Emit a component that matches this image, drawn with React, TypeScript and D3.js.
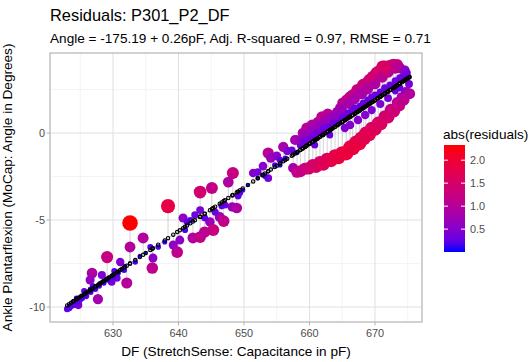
import React from "react";
import * as d3 from "d3";

// DF capacitance (pF) and ankle angle (degrees)
const pF = [
  623.0, 623.6, 624.0, 624.4, 624.8, 625.3, 625.7, 626.2, 626.5, 626.9,
  627.4, 627.7, 628.0, 628.5, 628.9, 629.4, 626.8, 628.3, 626.5, 630.6,
  631.1, 629.1, 632.1, 631.4, 630.2, 631.8, 632.6, 632.6, 634.6, 635.7,
  636.1, 636.0, 633.4, 634.1, 635.0, 636.9, 638.4, 624.7, 625.6, 629.8,
  639.8, 639.2, 640.2, 640.7, 641.8, 642.2, 643.3, 644.0, 644.8, 645.3,
  646.3, 646.9, 643.3, 645.1, 643.3, 641.3, 642.5, 648.2, 648.9, 649.4,
  649.8, 648.3, 651.4, 652.1, 637.9, 641.0, 645.6, 647.1, 650.6, 647.6,
  653.7, 654.1, 653.7, 652.9, 656.0, 656.6, 655.0, 657.5, 658.1, 658.2,
  652.8, 654.7, 656.3, 657.3,
  659.0, 659.6, 660.4, 661.3, 662.4, 663.4, 664.2, 665.1, 666.2, 667.3,
  668.2, 669.2, 670.3, 671.2, 672.3, 673.4, 673.8, 660.8, 661.9, 662.8,
  664.7, 665.7, 666.6, 667.7, 668.8, 669.7, 670.8, 671.8, 672.8,
  658.6, 660.1, 661.6, 663.1, 665.4, 667.7, 670.0, 672.3, 674.3, 674.6,
  664.4, 666.5, 668.9,
  658.1, 659.3, 660.5, 661.6, 662.7, 663.9, 665.0, 666.2, 667.1, 667.9,
  668.6, 669.5, 670.5, 671.5, 672.4, 673.4, 674.1, 674.7, 675.2, 674.6,
  668.5, 670.8, 673.1, 675.0, 666.2, 652.1, 655.5,
  658.6, 659.9, 661.0, 662.1, 663.3, 664.4, 665.6, 666.6, 667.6, 668.3,
  669.1, 670.0, 670.9, 672.0, 672.9, 673.7, 674.4, 675.3,
  665.4, 667.4, 669.5, 672.0, 673.8, 663.1, 660.8,
  657.8, 659.3, 660.1, 661.1, 662.1, 663.1, 663.9, 665.0, 666.0, 666.9,
  668.0, 668.9, 670.0, 671.1, 672.0, 673.1, 671.5,
  658.9, 659.5, 660.5, 661.1, 662.1, 662.7, 663.6, 665.0, 665.9, 666.9,
  668.2, 669.5, 670.8, 671.5, 673.1, 673.8, 674.9,
  644.0, 646.6, 649.1, 653.2, 655.5,
  623.3, 623.9, 624.5, 625.1, 625.9, 626.6, 627.3, 627.9, 628.6, 629.2,
  630.0, 630.8, 631.7,
];
const angle = [
  -10.11, -9.94, -9.77, -9.48, -9.66, -9.48, -9.31, -9.14, -8.97, -8.79,
  -8.85, -9.54, -8.62, -8.51, -8.39, -8.28, -8.05, -8.16, -8.45, -8.33,
  -7.41, -7.13, -8.62, -7.87, -7.93, -7.64, -6.55, -5.17, -6.03, -6.55,
  -7.18, -7.76, -7.41, -7.07, -6.9, -6.55, -4.2, -9.89, -9.08, -8.56,
  -6.84, -6.44, -6.15, -4.88, -5.0, -6.03, -5.98, -5.69, -5.11, -5.57,
  -4.83, -5.06, -3.39, -3.16, -4.43, -5.11, -4.71, -4.25, -4.31, -3.45,
  -3.28, -2.3, -2.3, -2.24, -6.26, -5.57, -4.54, -4.14, -2.99, -2.82,
  -1.15, -1.44, -2.59, -1.9, -0.8, -1.03, -1.32, -2.01, -1.15, -0.4,
  -2.41, -1.84, -1.44, -0.98,
  0.0, 0.29, 0.46, 0.63, 0.35, 0.75, 1.21, 1.72, 2.07, 2.47,
  2.76, 3.05, 3.45, 3.79, 3.85, 3.91, 3.74, 0.17, 0.92, 1.09,
  1.44, 1.9, 2.18, 2.41, 2.87, 3.22, 3.56, 3.74, 3.91,
  -0.69, -0.29, 0.06, 0.4, 1.04, 1.55, 2.18, 2.76, 3.28, 3.62,
  0.69, 1.32, 1.9,
  -2.24, -2.05, -1.85, -1.69, -1.51, -1.33, -1.16, -0.82, -0.53, -0.3,
  -0.01, 0.28, 0.58, 0.96, 1.35, 1.75, 2.06, 2.37, 2.82, 3.05,
  1.04, 1.67, 2.41, 3.28, 0.46, -2.59, -1.55,
  -2.2, -2.02, -1.92, -1.77, -1.56, -1.39, -1.16, -0.87, -0.59, -0.3,
  -0.07, 0.23, 0.54, 0.92, 1.26, 1.58, 1.9, 2.26,
  0.29, 0.75, 1.32, 2.01, 2.59, -0.11, -0.69,
  -0.4, -0.11, 0.12, 0.35, 0.58, 0.86, 0.98, 1.32, 1.67, 1.95,
  2.24, 2.53, 2.82, 3.22, 3.51, 3.74, 3.79,
  -0.52, -0.4, -0.17, 0.0, 0.23, 0.35, 0.58, 0.92, 1.15, 1.44,
  1.72, 2.07, 2.36, 2.59, 2.99, 3.16, 3.45,
  -4.88, -4.2, -3.62, -2.47, -1.84,
  -10.06, -9.89, -9.71, -9.54, -9.37, -9.14, -8.97, -8.79, -8.62, -8.45,
  -8.28, -8.05, -7.87,
];

const xTicks = [630, 640, 650, 660, 670];
const xMinor = [625, 635, 645, 655, 665, 675];
const yTicks = [-10, -5, 0];
const yMinor = [-7.5, -2.5, 2.5];
const legendTicks = [0.5, 1.0, 1.5, 2.0];

const titleText = "Residuals: P301_P2_DF";
const subtitleText = "Angle = -175.19 + 0.26pF, Adj. R-squared = 0.97, RMSE = 0.71";
const xLabel = "DF (StretchSense: Capacitance in pF)";
const yLabel = "Ankle Plantarflexion (MoCap: Angle in Degrees)";
const legendTitle = "abs(residuals)";

const FONT = "'Liberation Sans', Arial, Helvetica, sans-serif";

export default function App() {
  const W = 531, H = 362;
  const L = 50, R = 422, T = 53, B = 322;
  const x = d3.scaleLinear().domain([620.38, 677.18]).range([L, R]);
  const y = d3.scaleLinear().domain([-10.86, 4.6]).range([B, T]);

  const n = Math.min(pF.length, angle.length);
  const xs = pF.slice(0, n), ys = angle.slice(0, n);
  const mx = d3.mean(xs) as number, my = d3.mean(ys) as number;
  let sxy = 0, sxx = 0;
  for (let i = 0; i < n; i++) {
    sxy += (xs[i] - mx) * (ys[i] - my);
    sxx += (xs[i] - mx) * (xs[i] - mx);
  }
  const b = sxy / sxx, a = my - b * mx;
  const pts = xs.map((v, i) => {
    const p = a + b * v;
    return { x: v, y: ys[i], p, r: Math.abs(ys[i] - p) };
  });
  const rmin = d3.min(pts, (d) => d.r) as number;
  const rmax = d3.max(pts, (d) => d.r) as number;
  const color = d3
    .scaleLinear<string>()
    .domain([rmin, rmax])
    .range(["#0000ff", "#ff0000"])
    .interpolate(d3.interpolateLab);
  const rad = (v: number) => 1.3 * (1 + 5 * Math.sqrt((v - rmin) / (rmax - rmin)));
  const [x0, x1] = d3.extent(xs) as [number, number];

  // legend
  const lx = 444, lw = 21, ly0 = 145, ly1 = 252;
  const ls = d3.scaleLinear().domain([rmin, rmax]).range([ly1, ly0]);
  const stops = d3.range(0, 1.0001, 0.1);

  const axisText = "#4d4d4d";
  return (
    <svg
      width={W}
      height={H}
      style={{ position: "fixed", left: 0, top: 0, background: "#fff" }}
      fontFamily={FONT}
    >
      <defs>
        <linearGradient id="cb" x1="0" y1="1" x2="0" y2="0">
          {stops.map((s) => (
            <stop key={s} offset={s} stopColor={color(rmin + s * (rmax - rmin))} />
          ))}
        </linearGradient>
        <clipPath id="panel">
          <rect x={L} y={T} width={R - L} height={B - T} />
        </clipPath>
      </defs>
      <rect x={0} y={0} width={W} height={H} fill="#fff" />
      <text x={L} y={21} fontSize={16.4} fill="#000">{titleText}</text>
      <text x={L} y={43} fontSize={13.6} fill="#000">{subtitleText}</text>

      {/* grid */}
      {xMinor.map((t) => (
        <line key={"xm" + t} x1={x(t)} x2={x(t)} y1={T} y2={B} stroke="#efefef" strokeWidth={0.7} />
      ))}
      {yMinor.map((t) => (
        <line key={"ym" + t} x1={L} x2={R} y1={y(t)} y2={y(t)} stroke="#efefef" strokeWidth={0.7} />
      ))}
      {xTicks.map((t) => (
        <line key={"xg" + t} x1={x(t)} x2={x(t)} y1={T} y2={B} stroke="#e0e0e0" strokeWidth={1} />
      ))}
      {yTicks.map((t) => (
        <line key={"yg" + t} x1={L} x2={R} y1={y(t)} y2={y(t)} stroke="#e0e0e0" strokeWidth={1} />
      ))}

      <g clipPath="url(#panel)">
        {/* fitted line */}
        <line x1={x(x0)} y1={y(a + b * x0)} x2={x(x1)} y2={y(a + b * x1)} stroke="#d3d3d3" strokeWidth={1.6} />
        {/* residual segments */}
        {pts.map((d, i) => (
          <line key={"s" + i} x1={x(d.x)} x2={x(d.x)} y1={y(d.y)} y2={y(d.p)} stroke="#000" strokeOpacity={0.2} strokeWidth={0.9} />
        ))}
        {pts.map((d, i) => (
          <circle key={"c" + i} cx={x(d.x)} cy={y(d.y)} r={rad(d.r)} fill={color(d.r)} />
        ))}
        {pts.map((d, i) => (
          <circle key={"p" + i} cx={x(d.x)} cy={y(d.p)} r={1.7} fill="none" stroke="#000" strokeWidth={1.1} />
        ))}
      </g>

      <rect x={L} y={T} width={R - L} height={B - T} fill="none" stroke="#b3b3b3" strokeWidth={1.2} />

      {/* axes */}
      {xTicks.map((t) => (
        <g key={"xt" + t}>
          <line x1={x(t)} x2={x(t)} y1={B} y2={B + 3.4} stroke="#b3b3b3" strokeWidth={1} />
          <text x={x(t)} y={B + 15} fontSize={10.9} fill={axisText} textAnchor="middle">{t}</text>
        </g>
      ))}
      {yTicks.map((t) => (
        <g key={"yt" + t}>
          <line x1={L - 3.4} x2={L} y1={y(t)} y2={y(t)} stroke="#b3b3b3" strokeWidth={1} />
          <text x={L - 5} y={y(t) + 3.8} fontSize={10.9} fill={axisText} textAnchor="end">{t}</text>
        </g>
      ))}
      <text x={(L + R) / 2} y={356} fontSize={13.6} fill="#000" textAnchor="middle">{xLabel}</text>
      <text
        transform={`translate(12,${(T + B) / 2}) rotate(-90)`}
        fontSize={13.6}
        fill="#000"
        textAnchor="middle"
      >
        {yLabel}
      </text>

      {/* legend */}
      <text x={443} y={139} fontSize={13.6} fill="#000">{legendTitle}</text>
      <rect x={lx} y={ly0} width={lw} height={ly1 - ly0} fill="url(#cb)" />
      {legendTicks.map((t) => (
        <g key={"lt" + t}>
          <line x1={lx} x2={lx + 4} y1={ls(t)} y2={ls(t)} stroke="#fff" strokeWidth={1} />
          <line x1={lx + lw - 4} x2={lx + lw} y1={ls(t)} y2={ls(t)} stroke="#fff" strokeWidth={1} />
          <text x={lx + lw + 5} y={ls(t) + 3.8} fontSize={10.9} fill={axisText}>{t.toFixed(1)}</text>
        </g>
      ))}
    </svg>
  );
}
